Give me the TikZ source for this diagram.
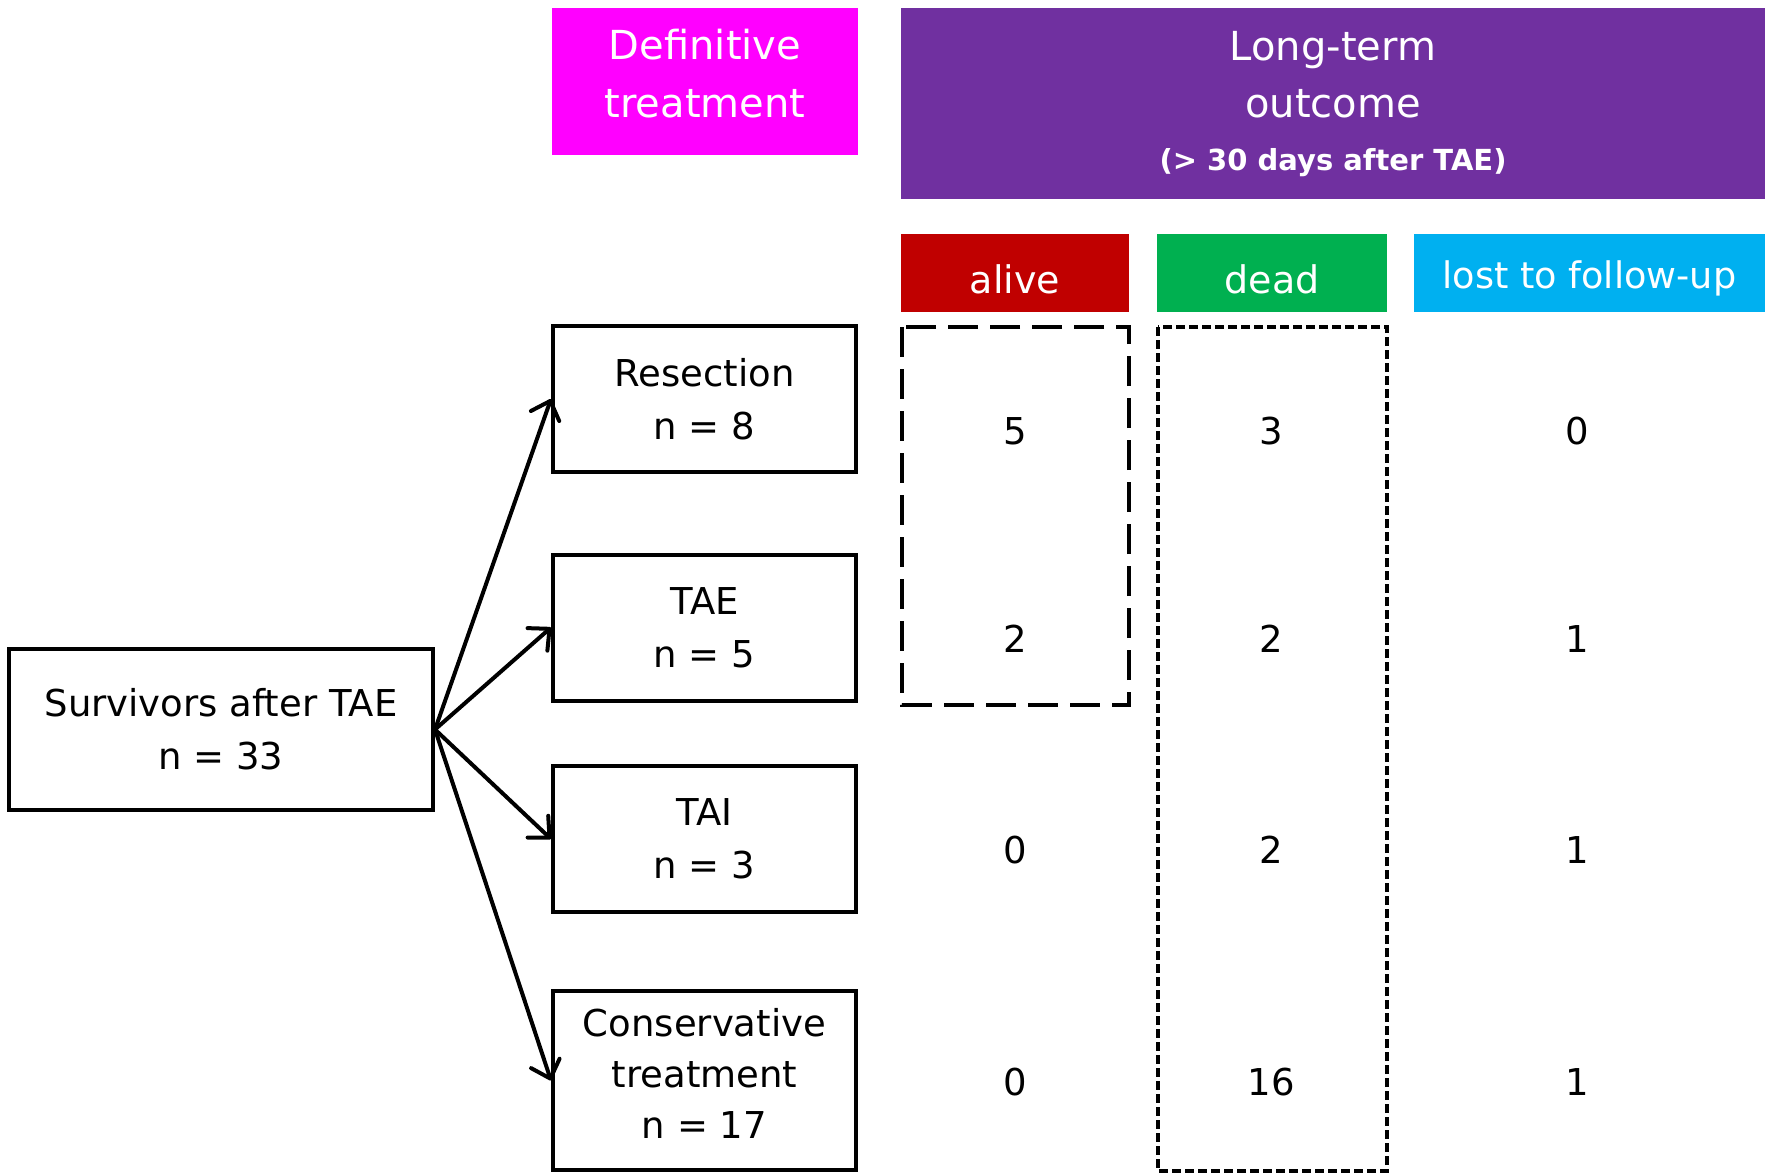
\documentclass[tikz,border=0pt]{standalone}
\usepackage{fontspec}
\setmainfont{DejaVu Sans}
\usetikzlibrary{arrows.meta}

\definecolor{defpink}{RGB}{255,0,255}
\definecolor{outpurple}{RGB}{112,48,160}
\definecolor{alivered}{RGB}{192,0,0}
\definecolor{deadgreen}{RGB}{0,176,80}
\definecolor{lostblue}{RGB}{0,176,240}

\tikzset{
  treatbox/.style={draw, line width=2pt, minimum width=151.5pt, minimum height=73pt,
    align=center, inner sep=0pt, font=\fontsize{18.5}{26.5}\selectfont},
  colhead/.style={fill=#1, text=white, minimum height=39pt, inner sep=0pt,
    text height=20pt, text depth=0pt, font=\fontsize{19}{23}\selectfont},
  headtext/.style={text=white, anchor=base, inner sep=0pt, font=\fontsize{20}{24}\selectfont},
  count/.style={anchor=base, inner sep=0pt, font=\fontsize{18.5}{22}\selectfont},
  branch/.style={line width=2pt, line join=round,
    -{Straight Barb[length=8pt, width=15pt, line cap=round, line join=round]}},
}

\begin{document}
\begin{tikzpicture}[x=0.5pt, y=-0.5pt]
    \useasboundingbox (0,0) rectangle (1774,1173);

    \def \tx {704.5};

    % headers
    \fill[defpink] (552,8) rectangle (858,155);
    \node[headtext] (defA) at (705, 59) {Definitive};
    \node[headtext] (defB) at (705, 117) {treatment};

    \fill[outpurple] (901,8) rectangle (1765,199);
    \node[headtext] (outA) at (1333, 60) {Long-term};
    \node[headtext] (outB) at (1333, 117) {outcome};
    \node[headtext, font=\fontsize{14.5}{18}\selectfont\bfseries] (outC) at (1333, 170) {(> 30 days after TAE)};

    \node[colhead=alivered, minimum width=114pt] (alive) at (1015, 273) {alive};
    \node[colhead=deadgreen, minimum width=115pt] (dead) at (1272, 273) {dead};
    \node[colhead=lostblue, minimum width=175.5pt, text height=15pt,
          font=\fontsize{18.3}{22}\selectfont] (lost) at (1589.5, 273) {lost to follow-up};

    % boxes
    \node[treatbox, minimum width=212pt, minimum height=80.5pt] (surv) at (221, 729.5) {Survivors after TAE\\n = 33};
    \node[treatbox] (resec) at (\tx, 399) {Resection\\n = 8};
    \node[treatbox] (tae) at (\tx, 627.5) {TAE\\n = 5};
    \node[treatbox] (tai) at (\tx, 839) {TAI\\n = 3};
    \node[treatbox, minimum height=89.5pt, text depth=7pt,
          font=\fontsize{18.5}{25.5}\selectfont] (cons) at (\tx, 1080.5) {Conservative\\treatment\\n = 17};

    \draw[branch] (surv.east) -- (resec.west);
    \draw[branch] (surv.east) -- (tae.west);
    \draw[branch] (surv.east) -- (tai.west);
    \draw[branch] (surv.east) -- (cons.west);

    % outcome columns
    \draw[line width=1.6pt, dash pattern=on 15pt off 6pt] (902,327) rectangle (1129,705);
    \draw[line width=1.6pt, dash pattern=on 4.5pt off 2pt] (1158,327) rectangle (1387,1171);

    \foreach \i/\y/\a/\d/\l in {1/444.5/5/3/0, 2/652.5/2/2/1, 3/863.5/0/2/1, 4/1095.5/0/16/1}
    {
        \node[count] (a\i) at (1015, \y) {\a};
        \node[count] (d\i) at (1271, \y) {\d};
        \node[count] (l\i) at (1577, \y) {\l};
    }

\end{tikzpicture}
\end{document}
